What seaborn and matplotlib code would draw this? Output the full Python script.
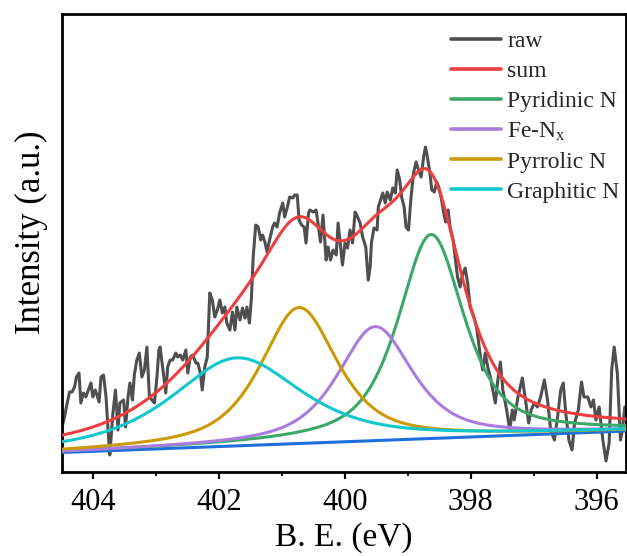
import numpy as np
import pandas as pd
import matplotlib
matplotlib.use("Agg")
import matplotlib.pyplot as plt
import seaborn as sns

# ---------------- data ----------------
raw_be = [404.50, 404.46, 404.43, 404.38, 404.34, 404.30, 404.27, 404.23, 404.20, 404.16,
          404.12, 404.07, 404.04, 404.01, 403.97, 403.91, 403.88, 403.84, 403.80, 403.76,
          403.74, 403.69, 403.65, 403.61, 403.58, 403.52, 403.49, 403.45, 403.42, 403.38,
          403.35, 403.31, 403.27, 403.23, 403.19, 403.15, 403.11, 403.07, 403.03, 402.99,
          402.96, 402.94, 402.89, 402.85, 402.82, 402.78, 402.74, 402.69, 402.66, 402.62,
          402.58, 402.53, 402.50, 402.46, 402.42, 402.37, 402.34, 402.30, 402.27, 402.23,
          402.19, 402.15, 402.11, 402.07, 402.03, 401.99, 401.95, 401.91, 401.88, 401.83,
          401.79, 401.75, 401.72, 401.67, 401.63, 401.59, 401.56, 401.52, 401.49, 401.46,
          401.42, 401.38, 401.34, 401.31, 401.27, 401.24, 401.20, 401.15, 401.12, 401.08,
          401.04, 400.99, 400.96, 400.92, 400.88, 400.83, 400.80, 400.76, 400.73, 400.69,
          400.65, 400.62, 400.58, 400.56, 400.50, 400.46, 400.43, 400.39, 400.35, 400.30,
          400.27, 400.23, 400.19, 400.14, 400.11, 400.07, 400.04, 400.00, 399.96, 399.92,
          399.88, 399.84, 399.80, 399.76, 399.72, 399.67, 399.63, 399.60, 399.58, 399.54,
          399.49, 399.47, 399.40, 399.36, 399.33, 399.28, 399.24, 399.20, 399.17, 399.13,
          399.10, 399.06, 399.03, 398.99, 398.95, 398.91, 398.87, 398.83, 398.79, 398.75,
          398.72, 398.69, 398.65, 398.62, 398.58, 398.54, 398.51, 398.47, 398.43, 398.40,
          398.36, 398.33, 398.28, 398.25, 398.21, 398.17, 398.14, 398.09, 398.05, 398.01,
          397.95, 397.91, 397.88, 397.84, 397.81, 397.77, 397.73, 397.69, 397.65, 397.61,
          397.57, 397.53, 397.49, 397.43, 397.38, 397.34, 397.31, 397.25, 397.18, 397.13,
          397.08, 397.04, 396.99, 396.94, 396.89, 396.83, 396.78, 396.73, 396.67, 396.62,
          396.57, 396.53, 396.49, 396.44, 396.39, 396.35, 396.29, 396.24, 396.20, 396.14,
          396.09, 396.05, 396.01, 395.96, 395.90, 395.85, 395.80, 395.76, 395.72, 395.67,
          395.62, 395.59, 395.55, 395.51]
raw_int = [34, 44, 54, 69, 69, 74, 84, 88, 58, 68,
           64, 73, 78, 64, 71, 59, 84, 86, 64, 24,
           6, 48, 71, 31, 58, 61, 34, 64, 78, 61,
           86, 101, 108, 84, 91, 114, 64, 61, 58, 84,
           111, 114, 88, 68, 94, 101, 101, 108, 104, 106,
           101, 111, 88, 104, 106, 98, 98, 88, 71, 94,
           104, 168, 161, 144, 151, 161, 148, 154, 138, 131,
           149, 131, 154, 141, 153, 143, 154, 138, 161, 204,
           236, 234, 221, 226, 218, 209, 221, 234, 238, 234,
           248, 258, 244, 253, 264, 263, 266, 266, 241, 236,
           234, 218, 248, 251, 249, 251, 238, 219, 246, 201,
           214, 201, 211, 206, 238, 214, 196, 218, 213, 231,
           218, 249, 244, 238, 224, 214, 181, 194, 218, 233,
           231, 254, 268, 258, 269, 261, 273, 268, 291, 281,
           264, 254, 234, 231, 264, 288, 299, 291, 284, 304,
           314, 304, 288, 271, 269, 279, 274, 263, 248, 239,
           251, 234, 221, 204, 184, 174, 184, 193, 178, 154,
           144, 134, 121, 101, 91, 108, 94, 84, 71, 58,
           81, 99, 71, 51, 31, 51, 41, 64, 83, 61,
           38, 51, 58, 54, 64, 81, 61, 31, 21, 44,
           71, 78, 48, 21, 11, 38, 51, 79, 64, 64,
           54, 61, 41, 54, 21, 0, 18, 91, 114, 88,
           21, 31, 54, 48]

# fitted components (pseudo-Voigt peaks)
peak_names = ["Pyridinic N", r"Fe-N$_\mathregular{x}$", "Pyrrolic N", "Graphitic N"]
peak_centers = [398.63, 399.52, 400.73, 401.72]
peak_heights = [204, 114, 136, 88]
peak_fwhm = [1.25, 1.42, 1.45, 2.45]
lorentz_fraction = 0.7

# linear background end points
bg_be = [404.5, 395.5]
bg_int = [8.5, 30.0]

x_limits = [404.5, 395.54]
x_ticks = [404, 402, 400, 398, 396]

colors = {
    "raw": "#4f4f4f",
    "sum": "#ef3e3e",
    "Pyridinic N": "#3aa86a",
    r"Fe-N$_\mathregular{x}$": "#ab7ce0",
    "Pyrrolic N": "#cc9a06",
    "Graphitic N": "#12c8cc",
    "background": "#1e6fdc",
}

# ---------------- build curves ----------------
be = np.linspace(404.6, 395.4, 600)
background = np.interp(be, bg_be[::-1], bg_int[::-1])


def pseudo_voigt(x, c, h, w, eta):
    g = np.exp(-4 * np.log(2) * ((x - c) / w) ** 2)
    l = 1.0 / (1.0 + ((x - c) / (w / 2)) ** 2)
    return h * (eta * l + (1 - eta) * g)


components = {}
for name, c, h, w in zip(peak_names, peak_centers, peak_heights, peak_fwhm):
    components[name] = background + pseudo_voigt(be, c, h, w, lorentz_fraction)
envelope = background + sum(components[n] - background for n in peak_names)

# ---------------- plot ----------------
sns.set_theme(style="white")
plt.rcParams["font.family"] = ["Liberation Serif", "DejaVu Serif"]
plt.rcParams["mathtext.fontset"] = "stix"

fig = plt.figure(figsize=(6.27, 5.56), dpi=100)
ax = fig.add_axes([62 / 627, (556 - 471.6) / 556, 563.5 / 627, (471.6 - 13.5) / 556])

lw = 2.2
sns.lineplot(x=raw_be, y=raw_int, ax=ax, color=colors["raw"], lw=lw, label="raw",
             estimator=None, sort=False, zorder=2)
sns.lineplot(x=be, y=envelope, ax=ax, color=colors["sum"], lw=lw, label="sum",
             estimator=None, sort=False, zorder=6)
for name in peak_names:
    sns.lineplot(x=be, y=components[name], ax=ax, color=colors[name], lw=lw, label=name,
                 estimator=None, sort=False, zorder=4)
sns.lineplot(x=be, y=background, ax=ax, color=colors["background"], lw=lw,
             estimator=None, sort=False, zorder=3)

ax.set_xlim(*x_limits)
ax.set_ylim(-10.6, 447.5)
ax.set_xticks(x_ticks)
ax.set_xticklabels([str(t) for t in x_ticks])
ax.set_xticks([403, 401, 399, 397], minor=True)
ax.set_yticks([])

for s in ax.spines.values():
    s.set_visible(True)
    s.set_color("black")
    s.set_linewidth(2.0)

ax.tick_params(axis="x", which="major", direction="out", length=5, width=1.6,
               labelsize=22, pad=7, bottom=True, colors="black")
ax.tick_params(axis="x", which="minor", direction="out", length=2.8, width=1.6, bottom=True)
ax.set_xlabel("B. E. (eV)", fontsize=24, labelpad=3.5, color="black")
ax.set_ylabel("Intensity (a.u.)", fontsize=25, color="black")
ax.yaxis.set_label_coords(-0.024, 0.523)

leg = ax.legend(loc="upper right", frameon=False, fontsize=17, handlelength=2.15,
                handletextpad=0.25, labelspacing=0.36, borderaxespad=0.0,
                bbox_to_anchor=(1.006, 0.984))
for line in leg.get_lines():
    line.set_linewidth(2.6)

fig.savefig("out.png", dpi=100)
